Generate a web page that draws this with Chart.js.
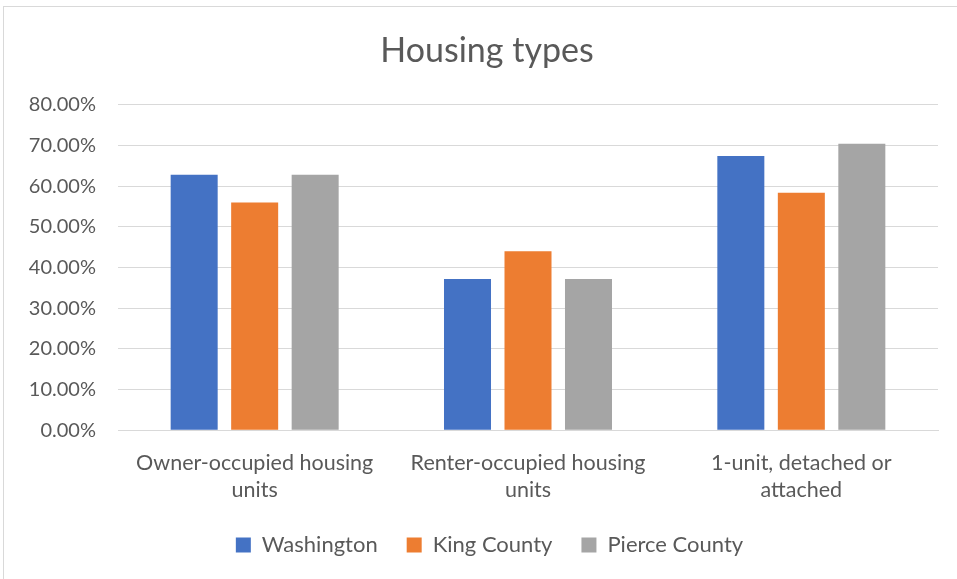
<!DOCTYPE html>
<html><head><meta charset="utf-8">
<script src="https://cdn.jsdelivr.net/npm/chart.js@4"></script>
<style>
html,body{margin:0;padding:0;background:#fff;overflow:hidden;}
#frame{position:absolute;left:3px;top:6px;width:1000px;height:700px;border:1px solid #d9d9d9;box-sizing:border-box;}
#wrap{position:absolute;left:0;top:0;width:957px;height:579px;}
</style></head>
<body>
<div id="frame"></div>
<div id="wrap"><canvas id="c" width="957" height="579"></canvas></div>
<script>
const categories = [["Owner-occupied housing","units"],["Renter-occupied housing","units"],["1-unit, detached or","attached"]];
const seriesNames = ["Washington","King County","Pierce County"];
const washington = [62.8, 37.2, 67.4];
const kingCounty = [56.0, 44.0, 58.4];
const pierceCounty = [62.8, 37.2, 70.4];
const colors = ["#4472C4","#ED7D31","#A5A5A5"];
const FONT = "Lato, 'Open Sans', sans-serif";
const TXT = "#595959";

// shifts title/legend boxes to mimic the reference's centring (layout only)
const boxShift = {
  id: 'boxShift',
  afterLayout(chart) {
    const t = chart.titleBlock, l = chart.legend;
    if (t) { t.left += 13.5; t.right += 13.5; }
    if (l) { l.left += 16; l.right += 16; l.top -= 9; l.bottom -= 9; }
  }
};

new Chart(document.getElementById('c'), {
  type: 'bar',
  data: {
    labels: categories,
    datasets: [washington, kingCounty, pierceCounty].map((d,i)=>({
      label: seriesNames[i], data: d, backgroundColor: colors[i],
      barPercentage: 0.777, categoryPercentage: 0.664
    }))
  },
  plugins: [boxShift],
  options: {
    responsive: false, animation: false,
    layout: { padding: { left: 9, right: 19, top: 0, bottom: 4 } },
    plugins: {
      title: { display: true, text: "Housing types", color: TXT,
        font: { family: FONT, size: 34, weight: 'normal' }, padding: { top: 31, bottom: 33 } },
      legend: { position: 'bottom',
        labels: { color: TXT, font: { family: FONT, size: 22 }, boxWidth: 15, boxHeight: 15, padding: 29 } },
      tooltip: { enabled: false }
    },
    scales: {
      x: { grid: { display: false }, border: { color: '#d9d9d9' },
        ticks: { color: TXT, font: { family: FONT, size: 21.5, lineHeight: 1.25 }, padding: 11, maxRotation: 0 } },
      y: { min: 0, max: 80, grid: { color: '#d9d9d9', drawTicks: false }, border: { display: false },
        afterFit: s => { s.width = 109; },
        ticks: { stepSize: 10, color: TXT, font: { family: FONT, size: 20 }, padding: 22,
          callback: v => v.toFixed(2) + '%' } }
    }
  }
});
</script>
</body></html>
